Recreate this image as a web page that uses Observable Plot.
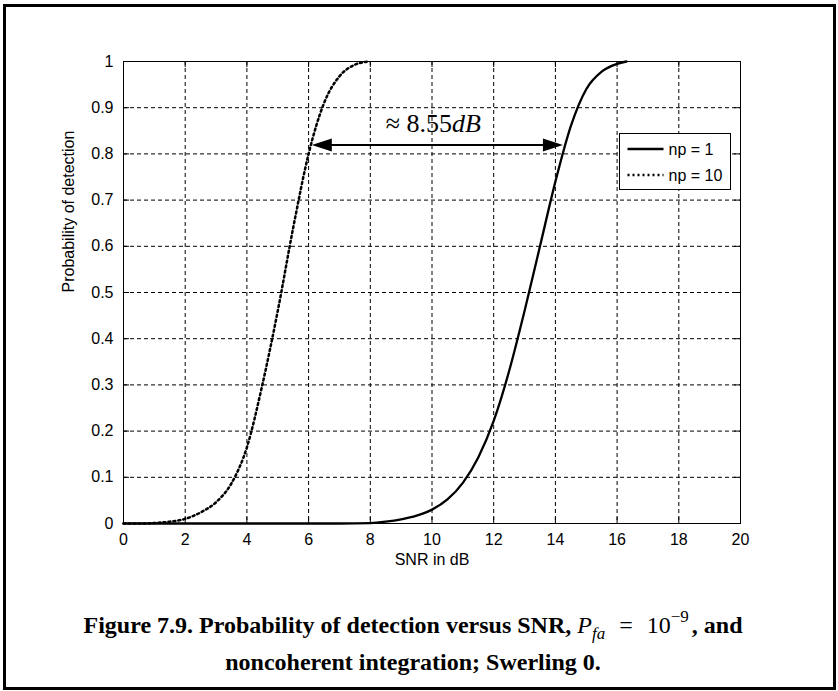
<!DOCTYPE html>
<html><head><meta charset="utf-8">
<script src="https://cdn.jsdelivr.net/npm/d3@7"></script>
<script src="https://cdn.jsdelivr.net/npm/@observablehq/plot@0.6"></script>
<style>
body{margin:0;background:#fff;}
#wrap{position:relative;width:838px;height:691px;overflow:hidden;background:#fff;}
#border{position:absolute;left:3px;top:4px;width:833px;height:686px;border:3px solid #000;box-sizing:border-box;pointer-events:none;}
#plot{position:absolute;left:0;top:0;}
#cap{position:absolute;left:0;width:826px;top:608px;text-align:center;font:bold 24px "Liberation Serif","Times New Roman",serif;line-height:34px;color:#000;white-space:nowrap;}
#cap .m{font-weight:normal;}
#cap .it{font-style:italic;}
#cap .sub{font-style:italic;font-size:17px;position:relative;top:6px;}
#cap .sup{font-size:17px;position:relative;top:-11px;margin-right:3px;}
#cap .eq{margin:0 14px 0 14px;}
</style></head><body>
<div id="wrap"><div id="plot"></div>
<div id="cap">Figure 7.9. Probability of detection versus SNR, <span class="m"><span class="it">P</span><span class="sub">fa</span><span class="eq">=</span>10<span class="sup">−9</span></span>, and<br>noncoherent integration; Swerling 0.</div>
<div id="border"></div></div>
<script>
// ---- data ----
const snr1 = [0,1,2,3,4,5,6,7,8,8.5,9,9.5,10,10.5,11,11.5,12,12.5,13,13.5,14,14.5,15,15.5,16,16.3];
const pd1  = [0,0,0,0,0,0,0,0,0.001,0.004,0.009,0.017,0.03,0.052,0.088,0.143,0.222,0.33,0.46,0.6,0.74,0.86,0.94,0.978,0.995,1];
const snr10 = [0,0.5,1,1.5,2,2.5,3,3.5,4,4.5,5,5.5,6,6.5,7,7.5,7.95];
const pd10  = [0,0,0.001,0.004,0.01,0.024,0.046,0.087,0.165,0.3,0.46,0.64,0.8,0.91,0.968,0.993,1];
const xTicks = [0,2,4,6,8,10,12,14,16,18,20];
const yTicks = [0,0.1,0.2,0.3,0.4,0.5,0.6,0.7,0.8,0.9,1];
const seriesNames = ["np = 1","np = 10"];
const xLabel = "SNR in dB";
const yLabel = "Probability of detection";
const annX = [6.12, 14.26];   // arrow ends (SNR)
const annY = 0.818;           // arrow level (Pd)
const annText = ["≈ 8.55", "dB"];

const np1 = snr1.map((s,i)=>({snr:s, pd:pd1[i]}));
const np10 = snr10.map((s,i)=>({snr:s, pd:pd10[i]}));

const W=838,H=600,mL=123,mR=98,mT=61,mB=77;
const innerH=H-mT-mB, innerW=W-mL-mR, tk=6;
const dash="4,3";
const dotted="2,3";
const plot = Plot.plot({
  width:W,height:H,marginLeft:mL,marginRight:mR,marginTop:mT,marginBottom:mB,
  style:{fontFamily:'"Liberation Sans",Arial,sans-serif',fontSize:"16px",color:"#000",background:"transparent",overflow:"visible"},
  x:{domain:[0,20]}, y:{domain:[0,1]},
  marks:[
    Plot.gridX(xTicks.slice(1,-1),{stroke:"#000",strokeOpacity:1,strokeDasharray:dash,strokeWidth:1}),
    Plot.gridY(yTicks.slice(1,-1),{stroke:"#000",strokeOpacity:1,strokeDasharray:dash,strokeWidth:1}),
    Plot.tickX(xTicks,{x:d=>d,stroke:"#000",insetTop:innerH-tk}),
    Plot.tickX(xTicks,{x:d=>d,stroke:"#000",insetBottom:innerH-tk}),
    Plot.tickY(yTicks,{y:d=>d,stroke:"#000",insetRight:innerW-tk}),
    Plot.tickY(yTicks,{y:d=>d,stroke:"#000",insetLeft:innerW-tk}),
    Plot.frame({stroke:"#000",strokeWidth:1}),
    Plot.axisX(xTicks,{tickSize:0,tickPadding:10,label:null,tickFormat:d=>String(d),fontSize:16}),
    Plot.axisY(yTicks,{tickSize:0,tickPadding:10,label:null,tickFormat:d=>String(d),fontSize:16}),
    Plot.text([xLabel],{frameAnchor:"bottom",dy:41,text:d=>d,fontSize:16,letterSpacing:"0.5px"}),
    Plot.text([yLabel],{frameAnchor:"left",dx:-55,rotate:-90,text:d=>d,fontSize:16,letterSpacing:"0.6px"}),
    Plot.line(np10,{x:"snr",y:"pd",curve:"monotone-x",stroke:"#000",strokeWidth:2.5,strokeDasharray:dotted}),
    Plot.line(np1,{x:"snr",y:"pd",curve:"monotone-x",stroke:"#000",strokeWidth:2.3})
  ]
});
document.getElementById("plot").appendChild(plot);

const svg=d3.select(plot);
const sx=plot.scale("x"), sy=plot.scale("y");
const ax1=sx.apply(annX[0]), ax2=sx.apply(annX[1]), ay=sy.apply(annY);
const hl=20, hw=6.5;
const g=svg.append("g");
g.append("line").attr("x1",ax1+hl-2).attr("x2",ax2-hl+2).attr("y1",ay).attr("y2",ay).attr("stroke","#000").attr("stroke-width",2);
g.append("path").attr("d",`M${ax1},${ay}L${ax1+hl},${ay-hw}L${ax1+hl},${ay+hw}Z`).attr("fill","#000");
g.append("path").attr("d",`M${ax2},${ay}L${ax2-hl},${ay-hw}L${ax2-hl},${ay+hw}Z`).attr("fill","#000");
const t=g.append("text").attr("x",(ax1+ax2)/2-4).attr("y",ay-13).attr("text-anchor","middle")
  .attr("font-family",'"Liberation Serif","Times New Roman",serif').attr("font-size",26).attr("fill","#000");
t.append("tspan").text(annText[0]);
t.append("tspan").attr("font-style","italic").text(annText[1]);

// legend
const lx=619.5, ly=133.5, lw=111, lh=56;
const lg=svg.append("g").attr("text-anchor","start");
lg.append("rect").attr("x",lx).attr("y",ly).attr("width",lw).attr("height",lh).attr("fill","#fff").attr("stroke","#000");
[0,1].forEach(i=>{
  const yy=ly+15.5+i*26;
  lg.append("line").attr("x1",lx+8).attr("x2",lx+44).attr("y1",yy).attr("y2",yy).attr("stroke","#000")
    .attr("stroke-width",i?2.5:2.3).attr("stroke-dasharray",i?dotted:null);
  lg.append("text").attr("x",lx+49).attr("y",yy+5.5).attr("text-anchor","start").attr("font-family",'"Liberation Sans",Arial,sans-serif')
    .attr("font-size",16).attr("fill","#000").text(seriesNames[i]);
});
</script>
</body></html>
